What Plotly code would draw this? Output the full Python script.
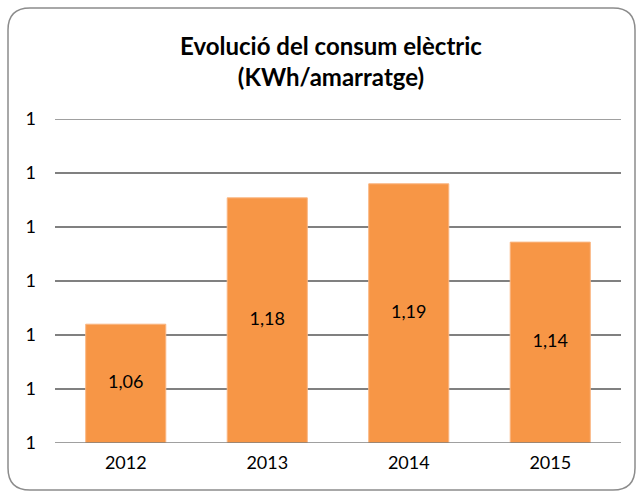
import plotly.graph_objects as go

years = ["2012", "2013", "2014", "2015"]
consum = [1.06, 1.177, 1.19, 1.136]
y_ticks = [0.95, 1.00, 1.05, 1.10, 1.15, 1.20, 1.25]
y_min, y_max = 0.95, 1.25

W, H = 643, 497
L, R, T, B = 55, 621, 119, 443

def px(x):
    return (x - L) / (R - L)

def py(y):
    return (B - y) / (B - T)

x0, x1, y0, y1, r = 8, 635, 8, 490, 22
path = (f"M {px(x0 + r)},{py(y0)} L {px(x1 - r)},{py(y0)} "
        f"Q {px(x1)},{py(y0)} {px(x1)},{py(y0 + r)} "
        f"L {px(x1)},{py(y1 - r)} Q {px(x1)},{py(y1)} {px(x1 - r)},{py(y1)} "
        f"L {px(x0 + r)},{py(y1)} Q {px(x0)},{py(y1)} {px(x0)},{py(y1 - r)} "
        f"L {px(x0)},{py(y0 + r)} Q {px(x0)},{py(y0)} {px(x0 + r)},{py(y0)} Z")

FONT = "Lato, Open Sans, sans-serif"

fig = go.Figure()
fig.add_trace(go.Bar(
    x=years, y=consum,
    marker=dict(color="#F79646", line=dict(color="#FAB682", width=1)),
    textposition="none",
))
fig.add_trace(go.Scatter(
    x=years, y=[(v + y_min) / 2 for v in consum],
    mode="text", text=[f"{v:.2f}".replace(".", ",") for v in consum],
    textposition="middle center",
    textfont=dict(family=FONT, size=18, color="#000000"),
    hoverinfo="skip",
))

fig.update_layout(
    width=W, height=H,
    margin=dict(l=L, r=W - R, t=T, b=H - B),
    paper_bgcolor="white", plot_bgcolor="white",
    separators=",.",
    bargap=0.434,
    showlegend=False,
    font=dict(family=FONT, size=18, color="#000000"),
    title=dict(
        text="<b>Evolució del consum elèctric<br>(KWh/amarratge)</b>",
        xref="container", yref="container",
        x=331 / W, xanchor="center", y=1 - 55 / H, yanchor="middle",
        font=dict(family=FONT, size=24, color="#000000"),
    ),
    xaxis=dict(type="category", showline=False, ticks="", showgrid=False,
               tickfont=dict(size=18), ticklabelstandoff=7),
    yaxis=dict(range=[y_min, y_max], tickvals=y_ticks, tickformat=".0f",
               showgrid=True, gridcolor="#808080", gridwidth=1.5,
               zeroline=False, showline=False, ticks="",
               tickfont=dict(size=18), ticklabelstandoff=18),
    shapes=[
        dict(type="line", xref="paper", yref="y", x0=0, x1=1, y0=y_min, y1=y_min,
             line=dict(color="#808080", width=1.5), layer="above"),
        dict(type="line", xref="paper", yref="y", x0=0, x1=1, y0=y_max, y1=y_max,
             line=dict(color="#808080", width=1.5), layer="below"),
        dict(type="path", xref="paper", yref="paper", path=path,
             line=dict(color="#8C8C8C", width=1.5), layer="below"),
    ],
)

fig.write_html("out.html", config={"displayModeBar": False},
               post_script="document.body.style.margin='0px';")
